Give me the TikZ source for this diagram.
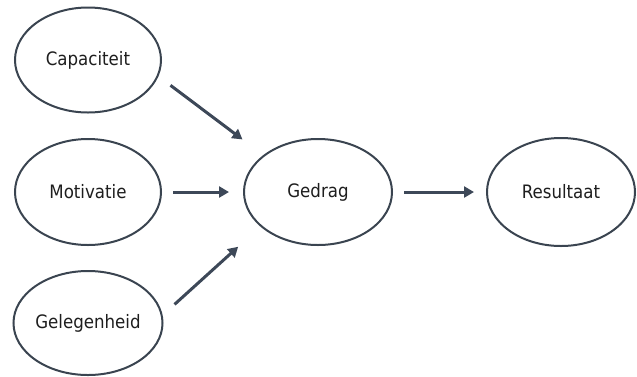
\documentclass[tikz,border=0pt]{standalone}
\usepackage{fontspec}
\setmainfont{DejaVu Sans Condensed}
\usetikzlibrary{shapes.geometric,arrows.meta}
\definecolor{edgec}{HTML}{3A4450}
\definecolor{arrc}{HTML}{3D4858}
\definecolor{txtc}{HTML}{1E1E1E}
\tikzset{
  oval/.style={ellipse, draw=edgec, line width=2pt, inner sep=0pt,
    font=\fontsize{18.5}{22}\selectfont, text=txtc},
  arr/.style={draw=arrc, line width=3pt, -{Triangle[length=10pt,width=11pt]}}
}
\begin{document}
\begin{tikzpicture}[x=1pt,y=-1pt]
\useasboundingbox (0,0) rectangle (637,376);
\node[oval, minimum width=146pt, minimum height=105pt] (cap) at (88,60) {Capaciteit};
\node[oval, minimum width=146pt, minimum height=106pt] (mot) at (88,192) {Motivatie};
\node[oval, minimum width=146pt, minimum height=104pt] (gel) at (88,323) {Gelegenheid};
\node[oval, minimum width=148pt, minimum height=106pt] (ged) at (318,192) {Gedrag};
\node[oval, minimum width=148pt, minimum height=108pt] (res) at (561,192) {Resultaat};
\draw[arr, shorten <=15pt, shorten >=26pt] (cap.-13) -- (ged.146);
\draw[arr, shorten <=11pt, shorten >=14pt] (mot) -- (ged);
\draw[arr, shorten <=16pt, shorten >=30pt] (gel.6) -- (ged.211);
\draw[arr, shorten <=11pt, shorten >=12pt] (ged) -- (res);
\end{tikzpicture}
\end{document}
